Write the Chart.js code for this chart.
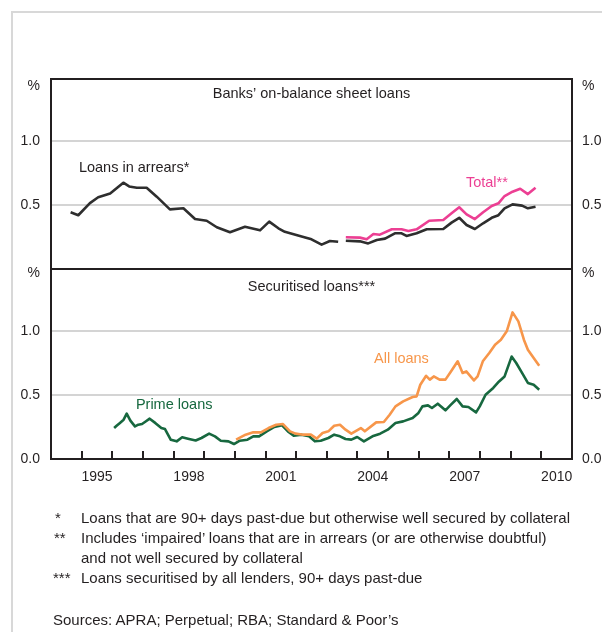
<!DOCTYPE html>
<html><head><meta charset="utf-8">
<script src="https://cdn.jsdelivr.net/npm/chart.js@4.4.0/dist/chart.umd.min.js"></script>
<style>
html,body{margin:0;padding:0;background:#fff;}
#wrap{position:relative;width:602px;height:632px;overflow:hidden;font-family:"Liberation Sans",Arial,sans-serif;color:#231f20;}
#frame{position:absolute;left:11px;top:11px;width:640px;height:660px;border-left:2px solid #d8d8d8;border-top:2px solid #d8d8d8;}
canvas{position:absolute;left:0;top:0;}
.fn{position:absolute;font-size:15px;line-height:16px;white-space:nowrap;}
</style></head>
<body><div id="wrap"><div id="frame"></div>
<canvas id="cTop" width="602" height="632" style="width:602px;height:632px"></canvas>
<canvas id="cBot" width="602" height="632" style="width:602px;height:632px"></canvas>
<div class="fn" style="left:55px;top:510px">*</div>
<div class="fn" style="left:81px;top:510px">Loans that are 90+ days past-due but otherwise well secured by collateral</div>
<div class="fn" style="left:54px;top:530px">**</div>
<div class="fn" style="left:81px;top:530px">Includes ‘impaired’ loans that are in arrears (or are otherwise doubtful)</div>
<div class="fn" style="left:81px;top:550px">and not well secured by collateral</div>
<div class="fn" style="left:53px;top:570px">***</div>
<div class="fn" style="left:81px;top:570px">Loans securitised by all lenders, 90+ days past-due</div>
<div class="fn" style="left:53px;top:612px">Sources: APRA; Perpetual; RBA; Standard &amp; Poor’s</div>
</div>
<script>
// ---------- data ----------
const yearLabels = ['1995','1998','2001','2004','2007','2010'];
const topYTicks = [0.5, 1.0];
const botYTicks = [0.0, 0.5, 1.0];

const arrearsDates = [1994.64,1994.89,1995.27,1995.54,1995.93,1996.36,1996.55,1996.8,1997.12,1997.45,1997.88,1998.32,1998.7,1999.08,1999.41,1999.84,2000.33,2000.82,2001.12,2001.42,2001.63,2002.12,2002.5,2002.83,2003.1,2003.37,2003.5,
  2003.62,2004.08,2004.35,2004.63,2004.9,2005.22,2005.44,2005.6,2005.93,2006.26,2006.8,2007.07,2007.32,2007.56,2007.83,2008.1,2008.38,2008.6,2008.8,2009.06,2009.37,2009.56,2009.81];
const arrearsValues = [0.443,0.42,0.515,0.56,0.59,0.674,0.645,0.635,0.635,0.565,0.466,0.474,0.39,0.377,0.326,0.287,0.33,0.302,0.37,0.318,0.29,0.258,0.232,0.19,0.219,0.213,null,
  0.221,0.216,0.2,0.227,0.237,0.279,0.279,0.258,0.279,0.31,0.3125,0.362,0.40,0.344,0.3125,0.357,0.40,0.42,0.474,0.505,0.495,0.474,0.487];

const totalDates = [2003.62,2004.08,2004.3,2004.52,2004.73,2005.12,2005.44,2005.66,2005.93,2006.34,2006.8,2007.07,2007.32,2007.56,2007.83,2008.1,2008.38,2008.6,2008.8,2009.06,2009.31,2009.56,2009.81];
const totalValues = [0.248,0.245,0.232,0.273,0.268,0.31,0.31,0.297,0.31,0.377,0.383,0.435,0.482,0.427,0.39,0.443,0.492,0.513,0.57,0.604,0.627,0.585,0.635];

const primeDates = [1996.06,1996.15,1996.24,1996.37,1996.47,1996.59,1996.74,1996.85,1996.97,1997.1,1997.22,1997.41,1997.6,1997.72,1997.91,1998.1,1998.28,1998.47,1998.72,1998.91,1999.16,1999.35,1999.54,1999.79,1999.97,2000.16,2000.41,2000.6,2000.79,2001.04,2001.29,2001.54,2001.73,2001.92,2002.17,2002.42,2002.61,2002.8,2003.05,2003.24,2003.43,2003.61,2003.8,2003.99,2004.21,2004.49,2004.74,2004.99,2005.24,2005.49,2005.8,2005.99,2006.12,2006.3,2006.43,2006.62,2006.87,2007.05,2007.24,2007.43,2007.62,2007.87,2007.99,2008.18,2008.43,2008.62,2008.8,2009.03,2009.18,2009.37,2009.56,2009.75,2009.93];
const primeValues = [0.242,0.262,0.28,0.307,0.354,0.30,0.255,0.268,0.273,0.295,0.315,0.28,0.242,0.234,0.15,0.138,0.17,0.159,0.145,0.164,0.198,0.177,0.143,0.138,0.117,0.143,0.151,0.177,0.177,0.216,0.25,0.263,0.216,0.182,0.19,0.177,0.138,0.143,0.164,0.19,0.177,0.156,0.151,0.172,0.138,0.177,0.198,0.229,0.281,0.294,0.32,0.36,0.411,0.419,0.398,0.432,0.38,0.424,0.469,0.411,0.406,0.364,0.411,0.502,0.555,0.606,0.645,0.80,0.75,0.672,0.594,0.58,0.541];

const allDates = [2000.04,2000.35,2000.6,2000.85,2001.1,2001.35,2001.57,2001.8,2001.98,2002.23,2002.48,2002.67,2002.86,2003.05,2003.24,2003.43,2003.61,2003.8,2004.11,2004.24,2004.61,2004.86,2005.05,2005.24,2005.49,2005.8,2005.93,2006.05,2006.24,2006.36,2006.49,2006.68,2006.87,2007.05,2007.27,2007.43,2007.55,2007.8,2007.92,2008.09,2008.3,2008.49,2008.68,2008.87,2009.06,2009.25,2009.43,2009.56,2009.75,2009.93];
const allValues = [0.151,0.19,0.208,0.208,0.242,0.268,0.273,0.216,0.198,0.19,0.19,0.159,0.203,0.216,0.26,0.268,0.229,0.198,0.242,0.216,0.286,0.289,0.346,0.411,0.45,0.484,0.489,0.58,0.65,0.62,0.645,0.62,0.62,0.684,0.763,0.672,0.684,0.614,0.645,0.763,0.828,0.893,0.932,0.997,1.145,1.075,0.932,0.854,0.789,0.729];

// ---------- styles ----------
const INK = '#231f20', GRID = '#d4d4d4';
const C_ARREARS = '#2e2e2e', C_TOTAL = '#ec3f93', C_ALL = '#f7964a', C_PRIME = '#17683f';
const FONT = '"Liberation Sans", Arial, sans-serif';

function pts(xs, ys){ return xs.map((x,i)=>({x:x, y:ys[i]})); }
function ds(label, xs, ys, color){
  return {label, data: pts(xs, ys), borderColor: color, borderWidth: 2.6, pointRadius: 0, tension: 0, spanGaps: false, fill: false, borderJoinStyle: 'round'};
}

function panelPlugin(cfg){
  return {
    id: 'panel_' + cfg.name,
    afterDraw(chart){
      const {ctx, chartArea: a, scales} = chart;
      ctx.save();
      ctx.strokeStyle = INK; ctx.lineWidth = 2;
      ctx.strokeRect(a.left, a.top, a.right - a.left, a.bottom - a.top);
      ctx.fillStyle = INK;
      ctx.font = '14px ' + FONT;
      ctx.textBaseline = 'middle';
      ctx.textAlign = 'right'; ctx.fillText('%', a.left - 11, a.top + cfg.pctOffset);
      ctx.textAlign = 'left'; ctx.fillText('%', a.right + 10, a.top + cfg.pctOffset);
      ctx.font = '14.5px ' + FONT;
      ctx.textAlign = 'center';
      ctx.fillText(cfg.title, (a.left + a.right)/2, a.top + cfg.titleOffset);
      ctx.textAlign = 'left';
      cfg.labels.forEach(l => {
        ctx.fillStyle = l.color;
        ctx.fillText(l.text, scales.x.getPixelForValue(l.x), scales.y.getPixelForValue(l.y));
      });
      if (cfg.xTicks){
        ctx.strokeStyle = INK; ctx.lineWidth = 2;
        for (let yr = Math.ceil(scales.x.min) + 1; yr < scales.x.max; yr++){
          const px = Math.round(scales.x.getPixelForValue(yr));
          ctx.beginPath(); ctx.moveTo(px, a.bottom); ctx.lineTo(px, a.bottom - 8); ctx.stroke();
        }
      }
      ctx.restore();
    }
  };
}

function yScales(ticksList, max){
  const common = {
    type: 'linear', min: 0, max: max,
    afterBuildTicks: s => { s.ticks = ticksList.map(v => ({value: v})); },
    border: {display: false},
    ticks: {color: INK, font: {family: FONT, size: 14}, callback: v => v.toFixed(1)}
  };
  return {
    y: Object.assign({}, common, {position: 'left',
      ticks: Object.assign({}, common.ticks, {padding: 11}),
      grid: {color: GRID, lineWidth: 2, drawTicks: false},
      afterFit: s => { s.width = 51; }}),
    y2: Object.assign({}, common, {position: 'right',
      ticks: Object.assign({}, common.ticks, {padding: 10}),
      grid: {display: false, drawTicks: false},
      afterFit: s => { s.width = 30; }})
  };
}

const baseOpts = {
  responsive: false, animation: false, devicePixelRatio: 1,
  plugins: {legend: {display: false}, tooltip: {enabled: false}},
  events: []
};

new Chart(document.getElementById('cTop'), {
  type: 'line',
  data: {datasets: [ds('Loans in arrears*', arrearsDates, arrearsValues, C_ARREARS), ds('Total**', totalDates, totalValues, C_TOTAL)]},
  options: Object.assign({}, baseOpts, {
    layout: {padding: {top: 79, bottom: 632 - 269, left: 0, right: 0}},
    scales: Object.assign({x: {type: 'linear', min: 1994, max: 2011, display: false}}, yScales(topYTicks, 1.484))
  }),
  plugins: [panelPlugin({name: 'top', title: 'Banks’ on-balance sheet loans', titleOffset: 15, pctOffset: 7, xTicks: false,
    labels: [{text: 'Loans in arrears*', x: 1994.91, y: 0.79, color: INK}, {text: 'Total**', x: 2007.54, y: 0.672, color: C_TOTAL}]})]
});

new Chart(document.getElementById('cBot'), {
  type: 'line',
  data: {datasets: [ds('All loans', allDates, allValues, C_ALL), ds('Prime loans', primeDates, primeValues, C_PRIME)]},
  options: Object.assign({}, baseOpts, {
    layout: {padding: {top: 269, bottom: 632 - 459 - 30, left: 0, right: 0}},
    scales: Object.assign({
      x: {type: 'linear', min: 1994, max: 2011, position: 'bottom',
        afterBuildTicks: s => { s.ticks = yearLabels.map(l => ({value: Number(l) + 0.5})); },
        grid: {display: false, drawTicks: false}, border: {display: false},
        ticks: {color: INK, font: {family: FONT, size: 14}, padding: 10, autoSkip: false, maxRotation: 0,
          callback: v => yearLabels.find(l => Number(l) + 0.5 === v) || ''},
        afterFit: s => { s.height = 30; }}
    }, yScales(botYTicks, 1.484))
  }),
  plugins: [panelPlugin({name: 'bot', title: 'Securitised loans***', titleOffset: 18, pctOffset: 4, xTicks: true,
    labels: [{text: 'All loans', x: 2004.54, y: 0.78, color: C_ALL}, {text: 'Prime loans', x: 1996.77, y: 0.418, color: C_PRIME}]})]
});
</script>
</body></html>
